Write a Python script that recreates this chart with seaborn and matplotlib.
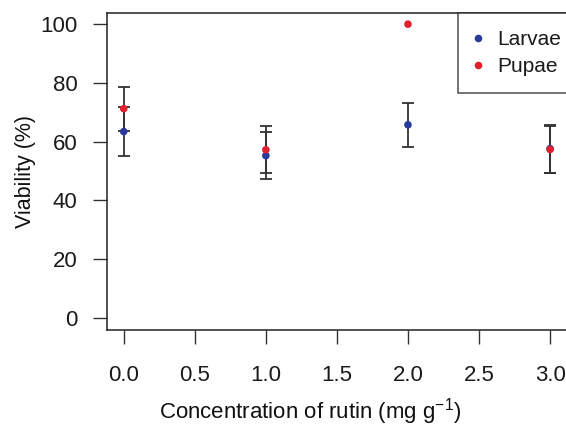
import numpy as np
import pandas as pd
import seaborn as sns
import matplotlib.pyplot as plt

# values
concentration = [0.0, 1.0, 2.0, 3.0]
larvae_mean = [63.4, 55.2, 65.7, 57.6]
larvae_err = [8.3, 8.0, 7.6, 8.2]
pupae_mean = [71.2, 57.2, 100.0, 57.3]
pupae_err = [7.5, 8.0, np.nan, 7.9]

x_ticks = [0.0, 0.5, 1.0, 1.5, 2.0, 2.5, 3.0]
y_ticks = [0, 20, 40, 60, 80, 100]

df = pd.concat([
    pd.DataFrame({"conc": concentration, "viab": larvae_mean,
                  "err": larvae_err, "stage": "Larvae"}),
    pd.DataFrame({"conc": concentration, "viab": pupae_mean,
                  "err": pupae_err, "stage": "Pupae"}),
], ignore_index=True)

sns.set_theme(style="ticks")
plt.rcParams['font.family'] = ['Liberation Sans', 'DejaVu Sans']

fig = plt.figure(figsize=(5.66, 4.26), dpi=100)
ax = fig.add_axes([0.1885, 0.2254, 0.8135, 0.7434])

bars = df.dropna(subset=["err"])
ax.errorbar(bars["conc"], bars["viab"], yerr=bars["err"], fmt="none",
            ecolor="#333333", elinewidth=1.3, capsize=4.5, capthick=1.3,
            zorder=2)

sns.scatterplot(data=df, x="conc", y="viab", hue="stage",
                palette={"Larvae": "#2a3a9c", "Pupae": "#e0202a"},
                s=30, linewidth=0, ax=ax, zorder=3)

ax.set_xlim(-0.12, 3.12)
ax.set_ylim(-4.2, 103.7)
ax.set_xticks(x_ticks)
ax.set_xticklabels([f"{t:.1f}" for t in x_ticks])
ax.set_yticks(y_ticks)

for s in ax.spines.values():
    s.set_visible(True)
    s.set_color("#222222")
    s.set_linewidth(1.1)

ax.tick_params(axis="both", length=10, width=1.0, color="#333333",
               labelsize=16, labelcolor="#1a1a1a")
ax.tick_params(axis="x", pad=15)
ax.tick_params(axis="y", pad=11)

ax.set_xlabel("Concentration of rutin (mg g$^{\\mathregular{-1}}$)",
              fontsize=16, color="#111111")
ax.xaxis.set_label_coords(0.443, -0.21)
ax.set_ylabel("Viability (%)", fontsize=15.5, color="#111111", labelpad=3)

leg = ax.legend(loc="upper left", bbox_to_anchor=(458 / 566, 1 - 13.3 / 426),
                bbox_transform=fig.transFigure, borderaxespad=0,
                fancybox=False, frameon=True, edgecolor="#222222",
                fontsize=15, handlelength=0.35, handletextpad=0.75,
                borderpad=0.8, labelspacing=0.4, title=None)
leg.get_frame().set_linewidth(1.1)
for t in leg.get_texts():
    t.set_color("#1a1a1a")

fig.savefig("out.png", dpi=100)
